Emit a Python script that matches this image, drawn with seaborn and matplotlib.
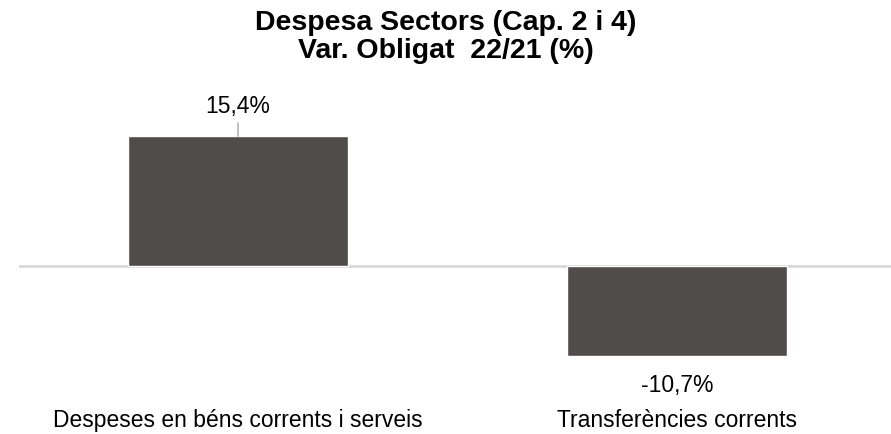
import matplotlib
matplotlib.use("Agg")
import matplotlib.pyplot as plt
import seaborn as sns
import pandas as pd

categories = ["Despeses en béns corrents i serveis", "Transferències corrents"]
values = [15.4, -10.7]
value_labels = ["15,4%", "-10,7%"]
title = "Despesa Sectors (Cap. 2 i 4)\nVar. Obligat  22/21 (%)"

sns.set_theme(style="white")
plt.rcParams['font.family'] = ['Liberation Sans', 'DejaVu Sans']

df = pd.DataFrame({"cat": categories, "val": values})

fig = plt.figure(figsize=(8.91, 4.34), dpi=100)
ax = fig.add_axes([0.0208, 0.1705, 0.9854, 0.599])
sns.barplot(data=df, x="cat", y="val", color="#504c4b", width=0.5,
            saturation=1, ax=ax)

ax.set_xlim(-0.5, 1.5)
ax.set_ylim(-11.15, 19.7)
ax.axhline(0, color="#d9d9d9", lw=2, zorder=0)
for s in ax.spines.values():
    s.set_visible(False)
ax.set_yticks([])
ax.set_xlabel("")
ax.set_ylabel("")
ax.tick_params(axis="x", length=0, pad=35, labelsize=16.5, labelcolor="black")

for i, (v, lab) in enumerate(zip(values, value_labels)):
    if v >= 0:
        ax.annotate(lab, xy=(i, v), xytext=(0, 13), textcoords="offset points",
                    ha="center", va="bottom", fontsize=16.5, color="black",
                    arrowprops=dict(arrowstyle="-", color="#a6a6a6", lw=1,
                                    shrinkA=1, shrinkB=0))
    else:
        ax.annotate(lab, xy=(i, v), xytext=(0, -13), textcoords="offset points",
                    ha="center", va="top", fontsize=16.5, color="black")

fig.suptitle(title, y=0.978, fontsize=20.5, fontweight="bold",
             linespacing=1.13, color="black")

fig.savefig("out.png", dpi=100)
